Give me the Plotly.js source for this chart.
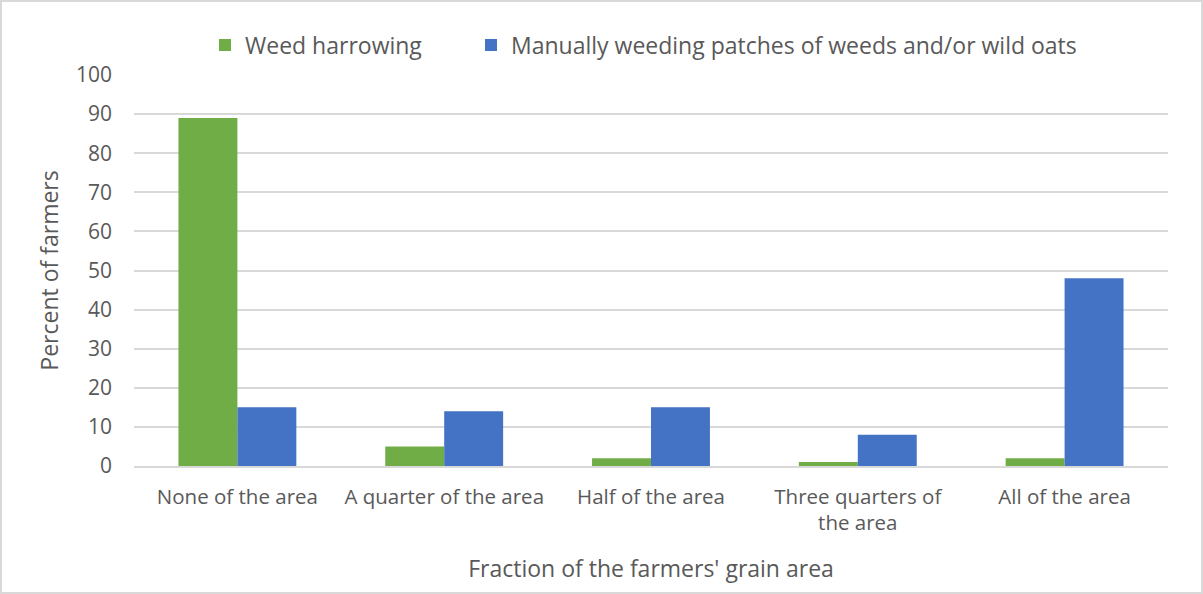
<!DOCTYPE html>
<html>
<head>
<meta charset="utf-8">
<script src="https://cdn.plot.ly/plotly-3.0.1.min.js"></script>
<style>
  html, body { margin: 0; padding: 0; background: #fff; }
  #chart { width: 1203px; height: 594px; box-sizing: border-box; border: 2px solid #d9d9d9; }
</style>
</head>
<body>
<div id="chart"></div>
<script>
const categories = ["None of the area", "A quarter of the area", "Half of the area", "Three quarters of<br>the area", "All of the area"];
const weedHarrowing = [89, 5, 2, 1, 2];
const manualWeeding = [15, 14, 15, 8, 48];
const seriesNames = ["Weed harrowing", "Manually weeding patches of weeds and/or wild oats"];
const yTicks = [0, 10, 20, 30, 40, 50, 60, 70, 80, 90, 100];

const fontFam = "Open Sans, Liberation Sans, sans-serif";
const textColor = "#595959";

const traces = [
  { type: "bar", name: seriesNames[0], x: categories, y: weedHarrowing,
    marker: { color: "#70ad47" }, hoverinfo: "y", legend: "legend" },
  { type: "bar", name: seriesNames[1], x: categories, y: manualWeeding,
    marker: { color: "#4472c4" }, hoverinfo: "y", legend: "legend2" }
];

const legendFont = { family: fontFam, size: 23, color: textColor };

const layout = {
  width: 1199, height: 590,
  margin: { l: 132, r: 33, t: 73, b: 126, autoexpand: false },
  paper_bgcolor: "#ffffff",
  plot_bgcolor: "#ffffff",
  barmode: "group",
  bargap: 0.43,
  bargroupgap: 0,
  font: { family: fontFam, size: 20, color: textColor },
  showlegend: true,
  legend: {
    orientation: "h", x: 203 / 1199, xanchor: "left", xref: "container",
    y: 1 - 43 / 590, yanchor: "middle", yref: "container",
    font: legendFont, itemwidth: 30
  },
  legend2: {
    orientation: "h", x: 469 / 1199, xanchor: "left", xref: "container",
    y: 1 - 43 / 590, yanchor: "middle", yref: "container",
    font: legendFont, itemwidth: 30
  },
  xaxis: {
    type: "category",
    showline: true, linecolor: "#d9d9d9", linewidth: 2,
    ticks: "", showgrid: false,
    tickfont: { family: fontFam, size: 20.5, color: textColor },
    ticklabelstandoff: 11,
    title: { text: "Fraction of the farmers' grain area", font: { family: fontFam, size: 23, color: textColor }, standoff: 26 }
  },
  yaxis: {
    range: [0, 100], tickvals: yTicks, ticktext: yTicks.map(String),
    showgrid: true, gridcolor: "#d9d9d9", gridwidth: 2,
    zeroline: false, showline: false, ticks: "",
    tickfont: { family: fontFam, size: 21, color: textColor },
    ticklabelstandoff: 21,
    title: { text: "Percent of farmers", font: { family: fontFam, size: 23, color: textColor }, standoff: 10 }
  }
};

Plotly.newPlot("chart", traces, layout, { displayModeBar: false, staticPlot: true });
</script>
</body>
</html>
